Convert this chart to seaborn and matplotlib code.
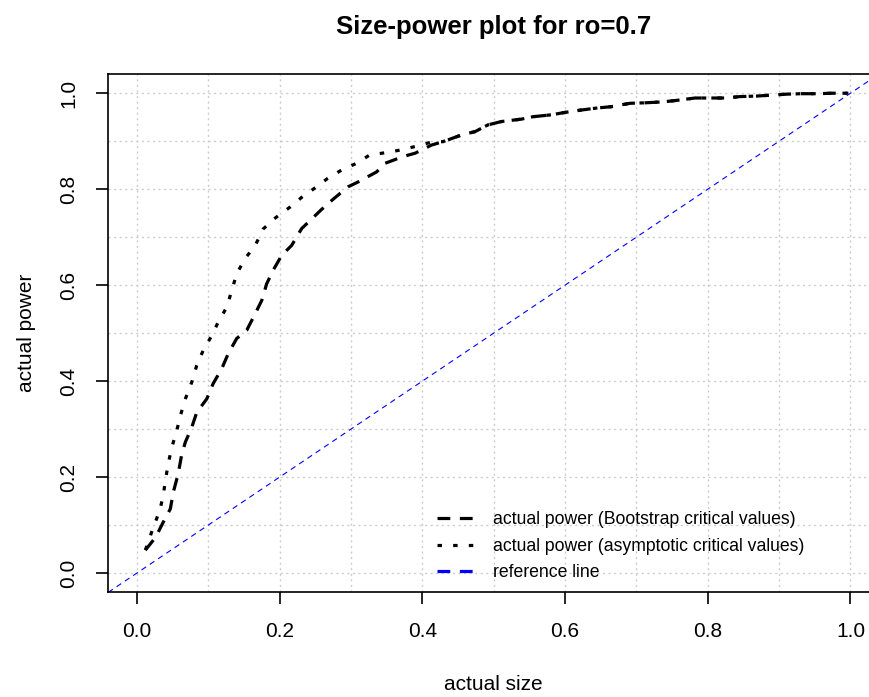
import numpy as np
import pandas as pd
import matplotlib
matplotlib.use("Agg")
import matplotlib.pyplot as plt
from matplotlib.lines import Line2D
from matplotlib.ticker import MultipleLocator
import seaborn as sns

# size-power curve
boot_size = [0.012, 0.026, 0.037, 0.047, 0.051, 0.058, 0.063, 0.068, 0.077, 0.084,
             0.098, 0.107, 0.119, 0.128, 0.140, 0.154, 0.166, 0.175, 0.182, 0.191,
             0.203, 0.217, 0.231, 0.243, 0.259, 0.275, 0.296, 0.310, 0.336, 0.348,
             0.373, 0.390, 0.413, 0.429, 0.455, 0.474, 0.492, 0.511, 0.539, 0.555,
             0.581, 0.600, 0.623, 0.644, 0.665, 0.691, 0.712, 0.738, 0.756, 0.782,
             0.798, 0.826, 0.845, 0.868, 0.889, 0.910, 0.931, 0.952, 0.976, 0.997]
boot_power = [0.048, 0.074, 0.106, 0.134, 0.168, 0.207, 0.248, 0.273, 0.304, 0.335,
              0.363, 0.395, 0.426, 0.457, 0.489, 0.506, 0.541, 0.568, 0.603, 0.631,
              0.662, 0.683, 0.718, 0.735, 0.758, 0.779, 0.805, 0.815, 0.836, 0.854,
              0.868, 0.875, 0.892, 0.899, 0.913, 0.920, 0.934, 0.941, 0.946, 0.951,
              0.955, 0.960, 0.965, 0.969, 0.972, 0.979, 0.980, 0.982, 0.985, 0.990,
              0.990, 0.990, 0.993, 0.994, 0.996, 0.998, 0.999, 0.999, 1.000, 1.000]

asym_size = [0.012, 0.023, 0.032, 0.037, 0.040, 0.044, 0.049, 0.056, 0.061, 0.068,
             0.077, 0.084, 0.093, 0.105, 0.114, 0.126, 0.133, 0.140, 0.152, 0.166,
             0.177, 0.194, 0.215, 0.231, 0.250, 0.267, 0.287, 0.308, 0.326, 0.348,
             0.371, 0.390, 0.415, 0.429, 0.455, 0.474, 0.492, 0.511, 0.539, 0.555,
             0.581, 0.600, 0.623, 0.644, 0.665, 0.691, 0.712, 0.738, 0.756, 0.782,
             0.798, 0.826, 0.845, 0.868, 0.889, 0.910, 0.931, 0.952, 0.976, 0.997]
asym_power = [0.048, 0.095, 0.130, 0.161, 0.193, 0.228, 0.262, 0.297, 0.328, 0.363,
              0.398, 0.433, 0.464, 0.495, 0.523, 0.554, 0.589, 0.624, 0.656, 0.683,
              0.717, 0.740, 0.763, 0.783, 0.803, 0.822, 0.840, 0.854, 0.871, 0.876,
              0.882, 0.889, 0.899, 0.899, 0.913, 0.920, 0.934, 0.941, 0.946, 0.951,
              0.955, 0.960, 0.965, 0.969, 0.972, 0.979, 0.980, 0.982, 0.985, 0.990,
              0.990, 0.990, 0.993, 0.994, 0.996, 0.998, 0.999, 0.999, 1.000, 1.000]

# reference line y = x
ref_intercept = 0.0
ref_slope = 1.0

tick_values = [0.0, 0.2, 0.4, 0.6, 0.8, 1.0]
tick_labels = ["0.0", "0.2", "0.4", "0.6", "0.8", "1.0"]

legend_labels = ["actual power (Bootstrap critical values)",
                 "actual power (asymptotic critical values)",
                 "reference line"]

boot_df = pd.DataFrame({"size": boot_size, "power": boot_power})
asym_df = pd.DataFrame({"size": asym_size, "power": asym_power})

sns.set_style("white")
plt.rcParams["font.family"] = ["Liberation Sans", "DejaVu Sans"]
plt.rcParams["text.color"] = "black"
plt.rcParams["axes.labelcolor"] = "black"

fig = plt.figure(figsize=(8.69, 6.97), dpi=100)
ax = fig.add_axes([0.1246, 0.1502, 0.8869, 0.7436])

sns.lineplot(data=boot_df, x="size", y="power", ax=ax, sort=False, estimator=None,
             color="black", linewidth=2.3, linestyle=(0, (4, 3)))
sns.lineplot(data=asym_df, x="size", y="power", ax=ax, sort=False, estimator=None,
             color="black", linewidth=2.3, linestyle=(0, (1.4, 3.5)))
ax.axline((0, ref_intercept), slope=ref_slope, color="#0000FF", linewidth=0.8,
          linestyle=(0, (5, 4)))

ax.set_xlim(-0.04, 1.04)
ax.set_ylim(-0.04, 1.04)
ax.set_xticks(tick_values)
ax.set_yticks(tick_values)
ax.xaxis.set_minor_locator(MultipleLocator(0.1))
ax.yaxis.set_minor_locator(MultipleLocator(0.1))
ax.set_xticklabels(tick_labels)
ax.set_yticklabels(tick_labels, rotation=90, va="center")
ax.grid(True, which="both", color="#CCCCCC", linestyle=(0, (1.5, 2.5)), linewidth=1)
ax.set_axisbelow(True)

for s in ax.spines.values():
    s.set_color("black")
    s.set_linewidth(1.2)
ax.tick_params(which="major", direction="out", length=8.5, width=1.2,
               left=True, bottom=True, labelsize=15, pad=13, colors="black")
ax.tick_params(which="minor", length=0)

ax.set_xlabel("actual size", fontsize=15, labelpad=24)
ax.set_ylabel("actual power", fontsize=15, labelpad=17)
ax.set_title("Size-power plot for ro=0.7", fontsize=18.5, fontweight="bold", pad=29,
             color="black")

handles = [Line2D([], [], color="black", linewidth=2.3, linestyle=(0, (4, 3))),
           Line2D([], [], color="black", linewidth=2.3, linestyle=(0, (1.4, 3.5))),
           Line2D([], [], color="#0000FF", linewidth=2.3, linestyle=(0, (4, 3)))]
leg = ax.legend(handles, legend_labels, loc="upper left",
                bbox_to_anchor=(437 / 869, 1 - 511 / 697),
                bbox_transform=fig.transFigure, frameon=False, fontsize=12.7,
                handlelength=2.1, handletextpad=1.1, labelspacing=0.55,
                borderpad=0, borderaxespad=0)
for t in leg.get_texts():
    t.set_color("black")

fig.savefig("out.png", dpi=100)
